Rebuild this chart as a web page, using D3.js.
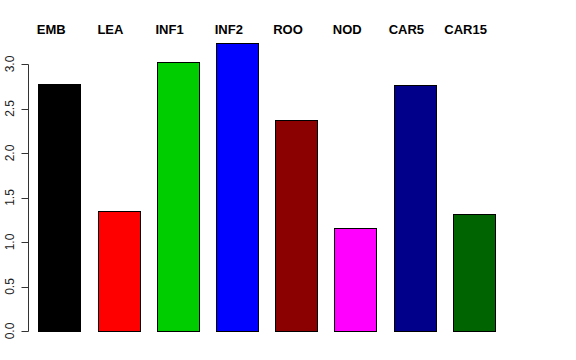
<!DOCTYPE html>
<meta charset="utf-8">
<style>
  html, body {
      margin: 0;
      padding: 0;
      background: #fff;
  }
  text {
      font-family: "Liberation Sans", Arial, sans-serif;
  }
  .label {
      font-weight: bold;
      font-size: 13px;
      fill: #000;
  }
  .tick-label {
      font-size: 12px;
      fill: #222;
  }
</style>
<body>
</body>
<script src="https://d3js.org/d3.v7.min.js"></script>
<script>

  var width = 576;
  var height = 360;

  /* data */
  var categories = ["EMB", "LEA", "INF1", "INF2", "ROO", "NOD", "CAR5", "CAR15"];
  var values = [2.775, 1.345, 3.02, 3.24, 2.37, 1.152, 2.76, 1.315];
  var colors = ["#000000", "#FF0000", "#00CD00", "#0000FF", "#8B0000", "#FF00FF", "#00008B", "#006400"];
  var yTicks = [0, 0.5, 1, 1.5, 2, 2.5, 3];

  var svg = d3.select("body").append("svg")
      .attr("width", width)
      .attr("height", height);

  var x = d3.scaleBand()
      .domain(categories)
      .range([29.6, 503.2])
      .paddingInner(0.294)
      .paddingOuter(0.147);

  var y = d3.scaleLinear()
      .domain([0, 3])
      .range([331, 64]);

  /* bars */
  svg.selectAll("rect.bar")
      .data(categories)
      .enter().append("rect")
      .attr("class", "bar")
      .attr("x", d => Math.round(x(d)) + 0.5)
      .attr("y", (d, i) => Math.round(y(values[i])) + 0.5)
      .attr("width", Math.round(x.bandwidth()))
      .attr("height", (d, i) => Math.round(y(0)) - Math.round(y(values[i])))
      .attr("fill", (d, i) => colors[i])
      .attr("stroke", "#000")
      .attr("stroke-width", 1);

  /* labels above */
  svg.selectAll("text.label")
      .data(categories)
      .enter().append("text")
      .attr("class", "label")
      .attr("x", d => x(d) + x.bandwidth() / 2 - 8)
      .attr("y", 34)
      .attr("text-anchor", "middle")
      .text(d => d);

  /* y axis, R style */
  var axis = svg.append("g")
      .attr("transform", "translate(28.5,0)");

  axis.append("line")
      .attr("x1", 0).attr("x2", 0)
      .attr("y1", Math.round(y(3)) + 0.5)
      .attr("y2", Math.round(y(0)) + 0.5)
      .attr("stroke", "#333");

  axis.selectAll("line.tick")
      .data(yTicks)
      .enter().append("line")
      .attr("class", "tick")
      .attr("x1", -7).attr("x2", 0)
      .attr("y1", d => Math.round(y(d)) + 0.5)
      .attr("y2", d => Math.round(y(d)) + 0.5)
      .attr("stroke", "#333");

  axis.selectAll("text")
      .data(yTicks)
      .enter().append("text")
      .attr("class", "tick-label")
      .attr("transform", d => "translate(-15," + y(d) + ") rotate(-90)")
      .attr("text-anchor", "middle")
      .text(d => d3.format(".1f")(d));

</script>
